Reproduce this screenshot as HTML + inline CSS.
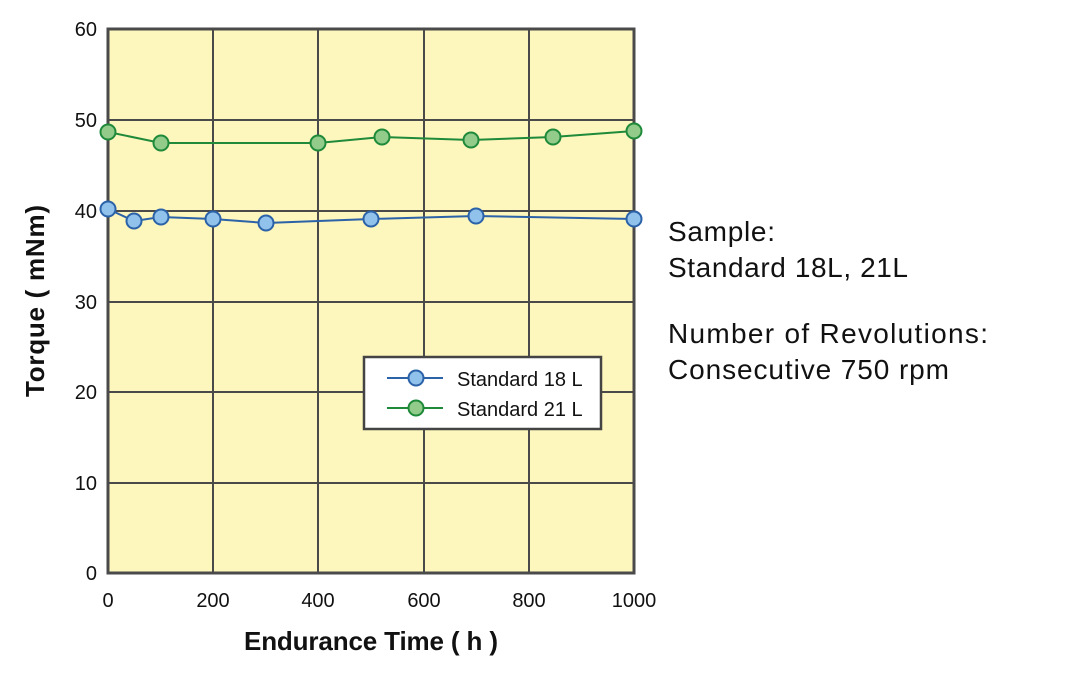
<!DOCTYPE html><html><head><style>body{margin:0;background:#fff}svg{display:block}text{font-family:"Liberation Sans",sans-serif;fill:#111}</style></head><body>
<svg width="1074" height="680" viewBox="0 0 1074 680">
<rect x="108" y="29" width="526" height="544" fill="#fdf6bd"/>
<g stroke="#4a4a4a" stroke-width="2" fill="none">
<line x1="213" y1="29" x2="213" y2="573"/><line x1="318" y1="29" x2="318" y2="573"/><line x1="424" y1="29" x2="424" y2="573"/><line x1="529" y1="29" x2="529" y2="573"/>
<line x1="108" y1="120" x2="634" y2="120"/><line x1="108" y1="211" x2="634" y2="211"/><line x1="108" y1="302" x2="634" y2="302"/><line x1="108" y1="392" x2="634" y2="392"/><line x1="108" y1="483" x2="634" y2="483"/>
<rect x="108" y="29" width="526" height="544" stroke-width="3"/>
</g>
<polyline points="108,132 161,143 318,143 382,137 471,140 553,137 634,131" fill="none" stroke="#1e8a3a" stroke-width="2"/>
<g fill="#93cc8a" stroke="#1e8a3a" stroke-width="2"><circle cx="108" cy="132" r="7.5"/><circle cx="161" cy="143" r="7.5"/><circle cx="318" cy="143" r="7.5"/><circle cx="382" cy="137" r="7.5"/><circle cx="471" cy="140" r="7.5"/><circle cx="553" cy="137" r="7.5"/><circle cx="634" cy="131" r="7.5"/></g>
<polyline points="108,209 134,221 161,217 213,219 266,223 371,219 476,216 634,219" fill="none" stroke="#2c62a8" stroke-width="2"/>
<g fill="#90c2ec" stroke="#2c62a8" stroke-width="2"><circle cx="108" cy="209" r="7.5"/><circle cx="134" cy="221" r="7.5"/><circle cx="161" cy="217" r="7.5"/><circle cx="213" cy="219" r="7.5"/><circle cx="266" cy="223" r="7.5"/><circle cx="371" cy="219" r="7.5"/><circle cx="476" cy="216" r="7.5"/><circle cx="634" cy="219" r="7.5"/></g>
<rect x="364" y="357" width="237" height="72" fill="#fff" stroke="#444" stroke-width="2.5"/>
<line x1="387" y1="378" x2="443" y2="378" stroke="#2c62a8" stroke-width="2"/><circle cx="416" cy="378" r="7.5" fill="#90c2ec" stroke="#2c62a8" stroke-width="2"/>
<line x1="387" y1="408" x2="443" y2="408" stroke="#1e8a3a" stroke-width="2"/><circle cx="416" cy="408" r="7.5" fill="#93cc8a" stroke="#1e8a3a" stroke-width="2"/>
<text x="457" y="386" font-size="20">Standard 18 L</text>
<text x="457" y="416" font-size="20">Standard 21 L</text>
<g font-size="20" text-anchor="end"><text x="97" y="36">60</text><text x="97" y="127">50</text><text x="97" y="218">40</text><text x="97" y="309">30</text><text x="97" y="399">20</text><text x="97" y="490">10</text><text x="97" y="580">0</text></g>
<g font-size="20" text-anchor="middle"><text x="108" y="607">0</text><text x="213" y="607">200</text><text x="318" y="607">400</text><text x="424" y="607">600</text><text x="529" y="607">800</text><text x="634" y="607">1000</text></g>
<text x="371" y="650" font-size="26" text-anchor="middle" font-weight="bold" textLength="254">Endurance Time ( h )</text>
<text transform="translate(44,301) rotate(-90)" font-size="26" text-anchor="middle" font-weight="bold" textLength="192">Torque ( mNm)</text>
<g font-size="28"><text x="668" y="241" textLength="107">Sample:</text><text x="668" y="277" textLength="240">Standard 18L, 21L</text><text x="668" y="343" textLength="320">Number of Revolutions:</text><text x="668" y="379" textLength="281">Consecutive 750 rpm</text></g>
</svg></body></html>
